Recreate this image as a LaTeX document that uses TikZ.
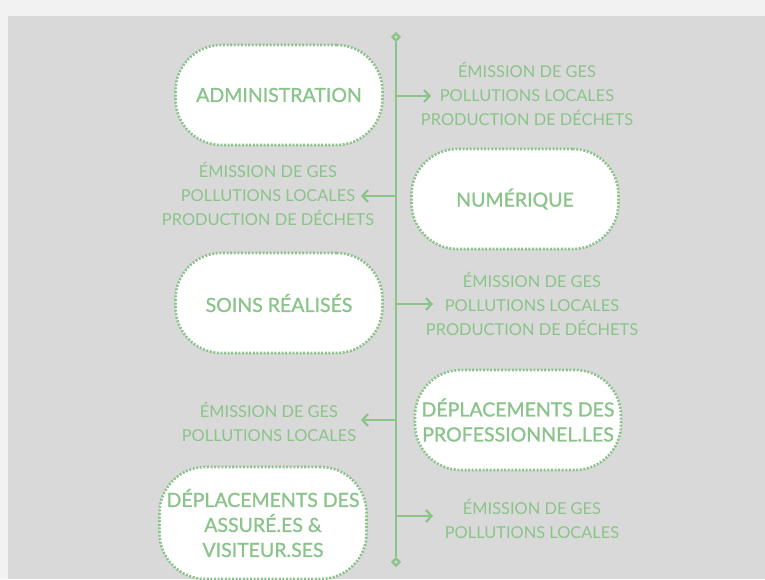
\documentclass[tikz,border=0pt]{standalone}
\usepackage{fontspec}
\setmainfont{Lato}
\newfontfamily\boxfont[FakeBold=1.1]{Lato}
\usetikzlibrary{arrows.meta,shapes.geometric}
\definecolor{leaf}{RGB}{139,196,138}
\definecolor{paper}{RGB}{242,242,242}
\definecolor{panel}{RGB}{217,217,217}

\begin{document}
\begin{tikzpicture}[x=1pt, y=-1pt,
    box/.style={draw=leaf, fill=white, line width=2.6pt, dash pattern=on 2pt off 1.6pt,
      rounded corners=46pt, minimum width=207pt, minimum height=100pt, align=center,
      text=leaf, font=\boxfont\fontsize{19.5}{25}\selectfont},
    info/.style={align=center, text=leaf, font=\fontsize{16.4}{24}\selectfont},
    link/.style={draw=leaf, line width=2.4pt, -{Straight Barb[length=5.5pt,width=12pt,line width=2.2pt]}},
    tip/.style={diamond, draw=leaf, fill=panel, line width=2.2pt, inner sep=0pt, minimum size=8pt}]
        \useasboundingbox (0,0) rectangle (765,579);
        \fill[paper] (0,0) rectangle (765,579);
        \fill[panel] (8,16) rectangle (765,579);

        % spine
        \node[tip] (top) at (396,37) {};
        \node[tip] (bot) at (396,562) {};
        \draw[leaf, line width=2.4pt] (top) -- (bot);

        % sources
        \node[box] (admin) at (279,95) {ADMINISTRATION};
        \node[box] (num) at (515,199) {NUMÉRIQUE};
        \node[box] (soins) at (279,303) {SOINS RÉALISÉS};
        \node[box, minimum width=206pt] (pro) at (518,420) {DÉPLACEMENTS DES\\PROFESSIONNEL.LES};
        \node[box, minimum height=112pt] (assur) at (263,523) {DÉPLACEMENTS DES\\ASSURÉ.ES \&\\VISITEUR.SES};

        % impacts
        \node[info] (i1) at (527,94) {ÉMISSION DE GES\\POLLUTIONS LOCALES\\PRODUCTION DE DÉCHETS};
        \node[info] (i2) at (268,194) {ÉMISSION DE GES\\POLLUTIONS LOCALES\\PRODUCTION DE DÉCHETS};
        \node[info] (i3) at (532,304) {ÉMISSION DE GES\\POLLUTIONS LOCALES\\PRODUCTION DE DÉCHETS};
        \node[info] (i4) at (269,422) {ÉMISSION DE GES\\POLLUTIONS LOCALES};
        \node[info] (i5) at (532,519) {ÉMISSION DE GES\\POLLUTIONS LOCALES};

        \coordinate (s1) at (396,96);  \coordinate (e1) at (431,96);
        \coordinate (s2) at (396,196); \coordinate (e2) at (361,196);
        \coordinate (s3) at (396,304); \coordinate (e3) at (433,304);
        \coordinate (s4) at (396,420); \coordinate (e4) at (361,420);
        \coordinate (s5) at (396,516); \coordinate (e5) at (433,516);

        \draw[link] (s1) -- (e1);
        \draw[link] (s2) -- (e2);
        \draw[link] (s3) -- (e3);
        \draw[link] (s4) -- (e4);
        \draw[link] (s5) -- (e5);
\end{tikzpicture}
\end{document}
